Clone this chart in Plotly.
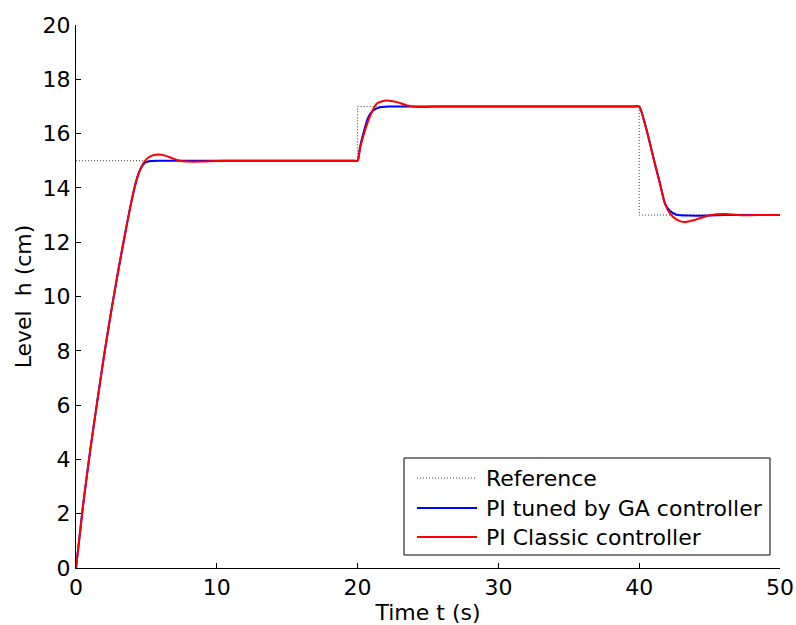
import plotly.graph_objects as go

# Set-point profile (step changes at 20 s and 40 s)
ref_t = [0, 20, 20, 40, 40, 50]
ref_h = [15, 15, 17, 17, 13, 13]

# Tank level with the GA-tuned PI controller
ga_t = [0, 0.5, 1.0, 1.5, 2.0, 2.5, 3.0, 3.5, 4.0, 4.3, 4.6, 4.9, 5.3, 6.0, 7.0, 10.0, 15.0, 19.0, 19.7,
        20.0, 20.17, 20.4, 20.76, 21.1, 21.6, 22.2, 23.0, 26.0, 33.0, 39.0, 39.7,
        40.0, 40.53, 41.0, 41.48, 41.83, 42.19, 42.66, 43.5, 44.96, 46.0, 48.0, 50.0]
ga_h = [0, 2.3, 4.3, 6.1, 7.85, 9.45, 10.95, 12.35, 13.65, 14.3, 14.72, 14.93, 14.99, 15.0, 15.0, 15.0, 15.0, 15.0, 15.0,
        15.0, 15.5, 15.99, 16.6, 16.85, 16.97, 17.0, 17.0, 17.0, 17.0, 17.0, 17.0,
        17.0, 16.12, 15.13, 14.15, 13.42, 13.15, 13.01, 12.98, 12.98, 13.0, 13.0, 13.0]

# Tank level with the classically tuned PI controller
pi_t = [0, 0.5, 1.0, 1.5, 2.0, 2.5, 3.0, 3.5, 4.0, 4.4, 4.9, 5.3, 5.85, 6.4, 6.9, 7.39,
        7.9, 9.0, 10.0, 11.0, 13.0, 16.0, 19.0, 19.7,
        20.0, 20.17, 20.4, 20.9, 21.35, 21.7, 22.07, 22.8, 23.5, 24.2, 24.8, 25.5, 26.5,
        29.0, 34.0, 39.0, 39.7,
        40.0, 40.53, 41.0, 41.48, 41.83, 42.19, 42.66, 43.2, 44.07, 45.0, 46.1, 47.4, 48.3, 49.2, 50.0]
pi_h = [0, 2.3, 4.3, 6.1, 7.85, 9.45, 10.95, 12.35, 13.65, 14.45, 15.0, 15.17, 15.23, 15.18, 15.08, 15.0,
        14.97, 14.97, 14.99, 15.0, 15.0, 15.0, 15.0, 15.0,
        15.0, 15.45, 15.9, 16.66, 17.1, 17.18, 17.22, 17.16, 17.04, 16.98, 16.98, 17.0, 17.0,
        17.0, 17.0, 17.0, 17.0,
        17.0, 16.12, 15.13, 14.15, 13.42, 13.05, 12.83, 12.74, 12.84, 12.99, 13.04, 12.99, 13.0, 13.0, 13.0]

names = ["Reference", "PI tuned by GA controller", "PI Classic controller"]
FONT = "DejaVu Sans, Arial, sans-serif"
FS = 22
DOT = dict(color="#333333", width=1, dash="1px,2px")

fig = go.Figure()
fig.add_trace(go.Scatter(x=ref_t, y=ref_h, mode="lines", name=names[0], line=DOT))
fig.add_trace(go.Scatter(x=ga_t, y=ga_h, mode="lines", name=names[1],
                         line=dict(color="#0000ff", width=2, shape="spline", smoothing=0.6)))
fig.add_trace(go.Scatter(x=pi_t, y=pi_h, mode="lines", name=names[2],
                         line=dict(color="#ff0000", width=2, shape="spline", smoothing=0.6)))

axis_common = dict(showgrid=False, zeroline=False, showline=True, linecolor="black",
                   linewidth=1, ticks="inside", ticklen=5, tickcolor="black",
                   tickfont=dict(family=FONT, size=FS, color="black"), mirror=False,
                   automargin=False)

fig.update_xaxes(range=[0, 50], dtick=10, tick0=0,
                 title=dict(text="Time t (s)", font=dict(family=FONT, size=FS, color="black"),
                            standoff=9),
                 **axis_common)
fig.update_yaxes(range=[0, 20], dtick=2, tick0=0,
                 title=dict(text="Level  h (cm)", font=dict(family=FONT, size=FS, color="black"),
                            standoff=4),
                 **axis_common)

# Legend box drawn in paper coordinates
L, R, B, T = 404, 770, 555, 458
W, H = 796, 625
ml, mr, mt, mb = 76, 16, 25, 57
pw, ph = W - ml - mr, H - mt - mb


def px(x):
    return (x - ml) / pw


def py(y):
    return (H - mb - y) / ph


fig.add_shape(type="rect", xref="paper", yref="paper", x0=px(L), x1=px(R), y0=py(B), y1=py(T),
              line=dict(color="black", width=1), fillcolor="white", layer="above")
rows = [478, 508, 537]
styles = [DOT, dict(color="#0000ff", width=2), dict(color="#ff0000", width=2)]
for yrow, name, st in zip(rows, names, styles):
    fig.add_shape(type="line", xref="paper", yref="paper", x0=px(417), x1=px(477),
                  y0=py(yrow), y1=py(yrow), line=st, layer="above")
    fig.add_annotation(xref="paper", yref="paper", x=px(484), y=py(yrow), text=name,
                       showarrow=False, xanchor="left", yanchor="middle",
                       font=dict(family=FONT, size=FS, color="black"))

fig.update_layout(width=W, height=H, showlegend=False,
                  margin=dict(l=ml, r=mr, t=mt, b=mb),
                  paper_bgcolor="white", plot_bgcolor="white")

fig.write_html("out.html")
